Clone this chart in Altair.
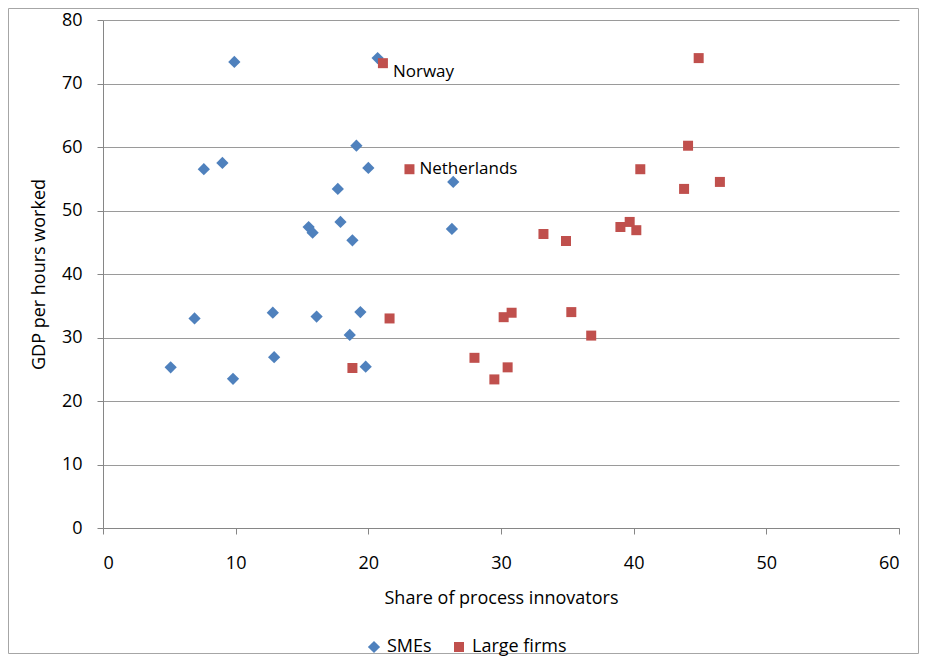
import altair as alt
import pandas as pd

# Values
sme_share = [9.9, 20.7, 7.6, 9.0, 19.1, 20.0, 17.7, 26.4, 15.5, 15.8, 17.9, 18.8, 26.3,
             5.1, 6.9, 9.8, 12.8, 12.9, 16.1, 19.4, 18.6, 19.8]
sme_gdp = [73.4, 74.0, 56.5, 57.5, 60.2, 56.7, 53.4, 54.5, 47.4, 46.5, 48.2, 45.3, 47.1,
           25.3, 33.0, 23.5, 33.9, 26.9, 33.3, 34.0, 30.4, 25.4]

large_share = [21.1, 44.9, 23.1, 44.1, 40.5, 43.8, 46.5, 39.0, 39.7, 40.2, 33.2, 34.9,
               21.6, 18.8, 28.0, 29.5, 30.5, 30.2, 30.8, 35.3, 36.8]
large_gdp = [73.2, 74.0, 56.5, 60.2, 56.5, 53.4, 54.5, 47.4, 48.2, 46.9, 46.3, 45.2,
             33.0, 25.2, 26.8, 23.4, 25.3, 33.2, 33.9, 34.0, 30.3]

groups = ["SMEs", "Large firms"]
colors = ["#4F81BD", "#C0504D"]
shapes = ["diamond", "square"]
sizes = [150, 100]

label_text = ["Norway", "Netherlands"]
label_share = [21.1, 23.1]
label_gdp = [73.2, 56.5]
label_dy = [9, 0]

FONT = "Open Sans"

df = pd.DataFrame({
    "share": sme_share + large_share,
    "gdp": sme_gdp + large_gdp,
    "group": [groups[0]] * len(sme_share) + [groups[1]] * len(large_share),
})
labels = pd.DataFrame({"share": label_share, "gdp": label_gdp, "text": label_text})

x_enc = alt.X("share:Q", title="Share of process innovators",
              scale=alt.Scale(domain=[0, 60], nice=False),
              axis=alt.Axis(values=[0, 10, 20, 30, 40, 50, 60], grid=False, tickSize=6,
                            labelPadding=20, titlePadding=17))
y_enc = alt.Y("gdp:Q", title="GDP per hours worked",
              scale=alt.Scale(domain=[0, 80], nice=False),
              axis=alt.Axis(values=[0, 10, 20, 30, 40, 50, 60, 70, 80], grid=True, tickSize=6,
                            labelPadding=15, titlePadding=13))

points = alt.Chart(df).mark_point(filled=True, opacity=1, strokeWidth=0).encode(
    x=x_enc,
    y=y_enc,
    color=alt.Color("group:N", scale=alt.Scale(domain=groups, range=colors),
                    legend=alt.Legend(title=None, orient="none", direction="horizontal",
                                      legendX=262, legendY=618, symbolSize=90,
                                      columnPadding=18, labelFontSize=18, labelFont=FONT,
                                      labelColor="#000", symbolStrokeWidth=0, padding=0)),
    shape=alt.Shape("group:N", scale=alt.Scale(domain=groups, range=shapes)),
    size=alt.Size("group:N", scale=alt.Scale(domain=groups, range=sizes), legend=None),
)

text_layers = []
for i, name in enumerate(label_text):
    text_layers.append(
        alt.Chart(labels).transform_filter(alt.datum.text == name).mark_text(
            align="left", baseline="middle", dx=10, dy=label_dy[i], fontSize=17,
            font=FONT, color="#000"
        ).encode(x=alt.X("share:Q"), y=alt.Y("gdp:Q"), text="text:N")
    )

border = alt.Chart(pd.DataFrame({"a": [0]})).mark_rect(
    fill=None, stroke="#a6a6a6", strokeWidth=1
).encode(x=alt.value(-94.5), x2=alt.value(815.5), y=alt.value(-11.5), y2=alt.value(633.5))

chart = alt.layer(border, points, *text_layers).properties(
    width=796, height=508,
    autosize=alt.AutoSizeParams(type="none"),
    padding={"left": 95, "top": 12, "right": 20, "bottom": 134},
).configure_view(stroke=None).configure_axis(
    domainColor="#868686", tickColor="#868686", gridColor="#9a9a9a",
    labelFont=FONT, labelFontSize=18, labelColor="#000",
    titleFont=FONT, titleFontSize=18, titleColor="#000", titleFontWeight="normal",
)

chart.save("out.html", embed_options={"renderer": "svg", "actions": False})
